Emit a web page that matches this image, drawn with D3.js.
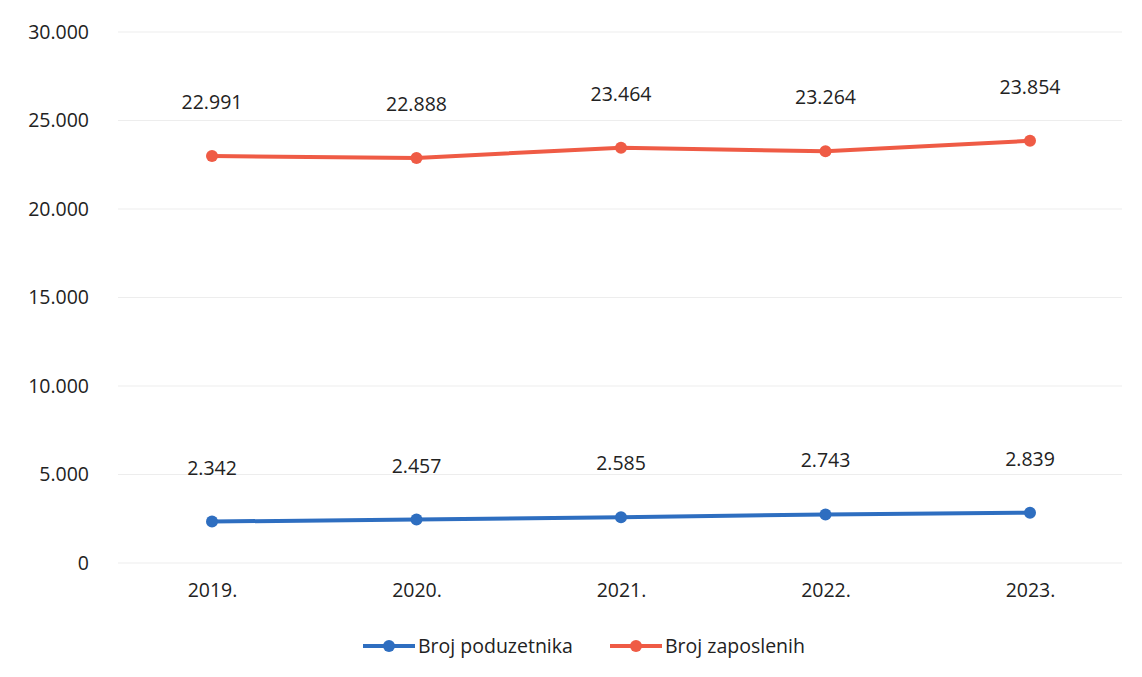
<!DOCTYPE html>
<html><head><meta charset="utf-8">
<script src="https://cdn.jsdelivr.net/npm/d3@7"></script>
<style>body{margin:0;background:#fff}svg{display:block}text{font-family:"Open Sans",sans-serif;fill:#222}</style>
</head><body><svg id="c" width="1142" height="677"></svg>
<script>
const categories = ["2019.", "2020.", "2021.", "2022.", "2023."];
const poduzetnici = [2342, 2457, 2585, 2743, 2839];
const zaposleni = [22991, 22888, 23464, 23264, 23854];
const yTicks = [0, 5000, 10000, 15000, 20000, 25000, 30000];
const seriesNames = ["Broj poduzetnika", "Broj zaposlenih"];
const colors = ["#2e6ec0", "#ef5b45"];

const svg = d3.select("#c");
const x = d3.scalePoint().domain(categories).range([212, 1030]);
const y = d3.scaleLinear().domain([0, 30000]).range([563, 32]);
const fmt = v => d3.format(",")(v).replace(/,/g, ".");
const FS = 19.5;

// gridlines
svg.append("g").selectAll("line").data(yTicks).join("line")
  .attr("x1", 118).attr("x2", 1122)
  .attr("y1", d => y(d)).attr("y2", d => y(d))
  .attr("stroke", "#ededed").attr("stroke-width", 1.2);

// y axis labels
const yAxis = d3.axisLeft(y).tickValues(yTicks).tickFormat(fmt).tickSize(0).tickPadding(0);
const ya = svg.append("g").attr("transform", "translate(89,0)").call(yAxis);
ya.select(".domain").remove();
ya.selectAll("text").attr("font-size", FS).attr("font-family", "Open Sans").attr("fill", "#222");

// x axis labels
const xAxis = d3.axisBottom(x).tickSize(0).tickPadding(0);
const xa = svg.append("g").attr("transform", "translate(0,583)").call(xAxis);
xa.select(".domain").remove();
xa.selectAll("text").attr("font-size", FS).attr("font-family", "Open Sans").attr("fill", "#222");

const series = [poduzetnici, zaposleni];
const line = d3.line().x((d, i) => x(categories[i])).y(d => y(d));
series.forEach((vals, si) => {
  const g = svg.append("g");
  g.append("path").datum(vals).attr("d", line).attr("fill", "none")
    .attr("stroke", colors[si]).attr("stroke-width", 4).attr("stroke-linejoin", "round");
  g.selectAll("circle").data(vals).join("circle")
    .attr("cx", (d, i) => x(categories[i])).attr("cy", d => y(d)).attr("r", 6)
    .attr("fill", colors[si]);
  g.selectAll("text").data(vals).join("text")
    .attr("x", (d, i) => x(categories[i])).attr("y", d => y(d) - 47)
    .attr("text-anchor", "middle").attr("font-size", FS).text(d => fmt(d));
});

// legend
const legX = [363, 610];
seriesNames.forEach((n, i) => {
  const g = svg.append("g").attr("transform", `translate(${legX[i]},646)`);
  g.append("line").attr("x1", 0).attr("x2", 52).attr("stroke", colors[i]).attr("stroke-width", 4);
  g.append("circle").attr("cx", 26).attr("r", 6).attr("fill", colors[i]);
  g.append("text").attr("x", 55).attr("dy", "0.35em").attr("font-size", FS).text(n);
});
</script></body></html>
